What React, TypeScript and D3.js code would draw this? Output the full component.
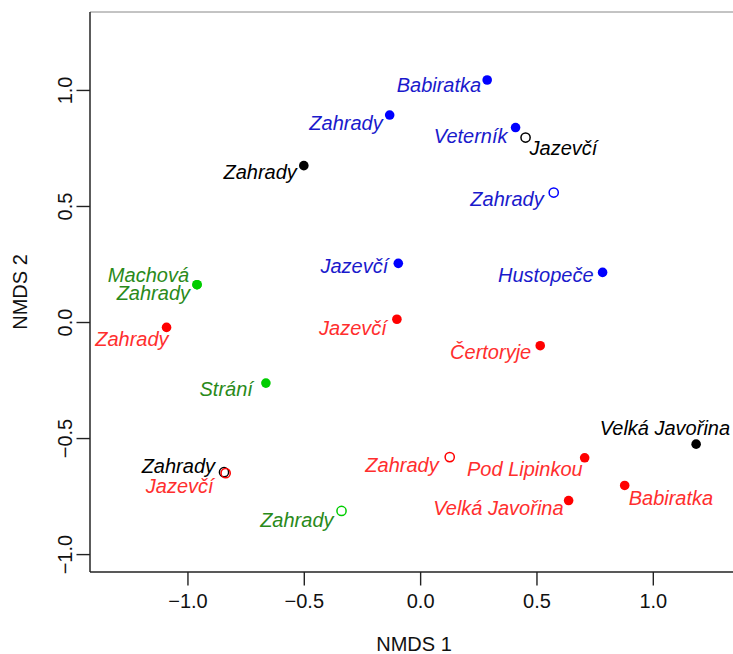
import React from "react";
import * as d3 from "d3";

// NMDS site scores
const sites = [
  "Babiratka", "Zahrady", "Veterník", "Zahrady", "Jazevčí", "Hustopeče",
  "Zahrady", "Jazevčí", "Velká Javořina", "Zahrady",
  "Zahrady", "Jazevčí", "Čertoryje", "Zahrady", "Pod Lipinkou", "Babiratka", "Velká Javořina", "Jazevčí",
  "Machová", "Zahrady", "Strání", "Zahrady",
];
const nmds1 = [
  0.286, -0.133, 0.408, 0.572, -0.096, 0.782,
  -0.502, 0.451, 1.184, -0.845,
  -1.092, -0.102, 0.514, 0.125, 0.705, 0.877, 0.636, -0.838,
  -0.961, -0.961, -0.665, -0.34,
];
const nmds2 = [
  1.045, 0.894, 0.84, 0.56, 0.255, 0.216,
  0.676, 0.797, -0.524, -0.645,
  -0.021, 0.014, -0.1, -0.58, -0.583, -0.702, -0.767, -0.649,
  0.163, 0.163, -0.261, -0.812,
];
const groups = [
  "blue", "blue", "blue", "blue", "blue", "blue",
  "black", "black", "black", "black",
  "red", "red", "red", "red", "red", "red", "red", "red",
  "green", "green", "green", "green",
];
const filled = [
  true, true, true, false, true, true,
  true, false, true, false,
  true, true, true, false, true, true, true, false,
  true, true, true, false,
];
const xTicks = [-1, -0.5, 0, 0.5, 1];
const yTicks = [-1, -0.5, 0, 0.5, 1];

// label placement relative to the point: [dx, dy, anchor]
const nudge: [number, number, string][] = [
  [-6, 12, "end"], [-7, 15, "end"], [-8, 15, "end"], [-10, 13, "end"], [-10, 10, "end"], [-9, 10, "end"],
  [-7, 13, "end"], [4, 17, "start"], [34, -9, "end"], [-9, 1, "end"],
  [2, 19, "end"], [-10, 16, "end"], [-9, 13, "end"], [-11, 15, "end"], [-2, 18, "end"], [4, 20, "start"], [-5, 14, "end"], [-12, 20, "end"],
  [-8, -3, "end"], [-7, 15, "end"], [-13, 13, "end"], [-8, 16, "end"],
];

const pointColor: Record<string, string> = { blue: "#0000ff", black: "#000000", red: "#ff0000", green: "#00cd00" };
const textColor: Record<string, string> = { blue: "#1a1acc", black: "#000000", red: "#ff2e2e", green: "#2a8a1a" };

const W = 733;
const H = 654;
const left = 90, right = 738, top = 12, bottom = 572;
const font = "'Liberation Sans', Arial, Helvetica, sans-serif";

export default function App() {
  const x = d3.scaleLinear().domain([-1.421, 1.364]).range([left, right]);
  const y = d3.scaleLinear().domain([-1.075, 1.338]).range([bottom, top]);
  const fmt = d3.format(".1f");

  return (
    <svg width={W} height={H} style={{ position: "absolute", left: 0, top: 0, background: "#fff" }} fontFamily={font}>
      {/* box */}
      <line x1={left} x2={right} y1={top} y2={top} stroke="#888" strokeWidth={1} />
      <line x1={left} x2={left} y1={top} y2={bottom} stroke="#333" strokeWidth={1.6} />
      <line x1={left} x2={right} y1={bottom} y2={bottom} stroke="#222" strokeWidth={1.4} />

      {/* x axis */}
      {xTicks.map((t) => (
        <g key={"x" + t}>
          <line x1={x(t)} x2={x(t)} y1={bottom} y2={bottom + 13.5} stroke="#222" strokeWidth={1.4} />
          <text x={x(t)} y={608} fontSize={20} textAnchor="middle" fill="#111">{fmt(t)}</text>
        </g>
      ))}
      <text x={(left + right) / 2} y={651} fontSize={20} textAnchor="middle" fill="#111">NMDS 1</text>

      {/* y axis */}
      {yTicks.map((t) => (
        <g key={"y" + t}>
          <line x1={left} x2={left - 13.5} y1={y(t)} y2={y(t)} stroke="#222" strokeWidth={1.4} />
          <text transform={`translate(72,${y(t)}) rotate(-90)`} fontSize={20} textAnchor="middle" fill="#111">{fmt(t)}</text>
        </g>
      ))}
      <text transform={`translate(27,${(top + bottom) / 2}) rotate(-90)`} fontSize={20} textAnchor="middle" fill="#111">NMDS 2</text>

      {/* points */}
      {sites.map((s, i) =>
        filled[i] ? (
          <circle key={"p" + i} cx={x(nmds1[i])} cy={y(nmds2[i])} r={4.8} fill={pointColor[groups[i]]} />
        ) : (
          <circle key={"p" + i} cx={x(nmds1[i])} cy={y(nmds2[i])} r={4.6} fill="none" stroke={pointColor[groups[i]]} strokeWidth={1.5} />
        )
      )}

      {/* labels */}
      {sites.map((s, i) => (
        <text
          key={"l" + i}
          x={x(nmds1[i]) + nudge[i][0]}
          y={y(nmds2[i]) + nudge[i][1]}
          textAnchor={nudge[i][2]}
          fontSize={20}
          fontStyle="italic"
          fill={textColor[groups[i]]}
        >
          {s}
        </text>
      ))}
    </svg>
  );
}
